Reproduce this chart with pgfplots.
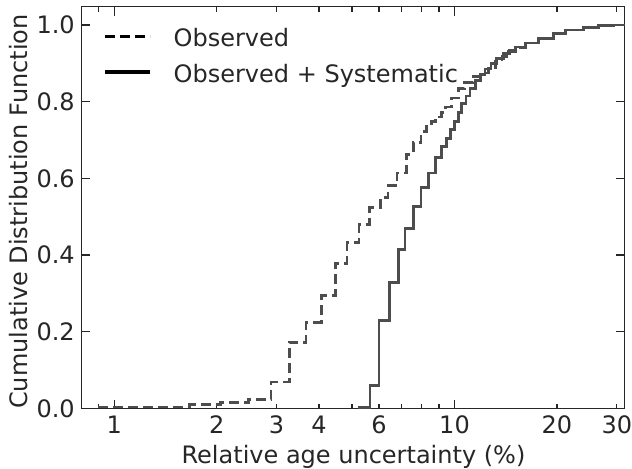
\documentclass[border=0pt]{standalone}
\usepackage{fontspec}
\setmainfont{DejaVu Sans}
\usepackage{pgfplots}
\pgfplotsset{compat=1.18}
\definecolor{txt}{HTML}{262626}
\definecolor{crv}{HTML}{4D4D4D}
\begin{document}
\fontsize{24bp}{29bp}\selectfont
\begin{tikzpicture}
\begin{axis}[
 at={(0,0)}, anchor=south west,
 scale only axis, width=543bp, height=401.8bp,
 xmode=log, xmin=0.801, xmax=31.6, ymin=0, ymax=1.0477,
 axis line style={txt, line width=1.6bp},
 tick align=inside, xtick pos=both, ytick pos=both,
 every tick/.style={txt, line width=1.3bp},
 major tick length=9bp, minor tick length=5bp,
 xtick={1,10}, xticklabels={1,10},
 minor xtick={0.9,5,7,8,9},
 extra x ticks={2,3,4,6,20,30}, extra x tick labels={2,3,4,6,20,30},
 extra x tick style={major tick length=5bp},
 ytick={0,0.2,0.4,0.6,0.8,1.0}, yticklabels={0.0,0.2,0.4,0.6,0.8,1.0},
 minor ytick={},
 xticklabel style={anchor=base, yshift=-24.8bp, text=txt, inner sep=0pt, font=\fontsize{24bp}{29bp}\selectfont},
 yticklabel style={anchor=east, inner sep=0pt, xshift=-6.6bp, text=txt, font=\fontsize{24bp}{29bp}\selectfont},
 xlabel={Relative age uncertainty (\%)},
 ylabel={Cumulative Distribution Function},
 xlabel style={at={(axis description cs:0.5009,0)}, anchor=base, yshift=-54.8bp, text=txt, inner sep=0pt, font=\fontsize{24bp}{29bp}\selectfont},
 ylabel style={at={(axis description cs:-0.1151,0.49)}, anchor=center, text=txt, inner sep=0pt, font=\fontsize{24bp}{29bp}\selectfont},
 legend style={draw=none, fill=none, at={(axis description cs:0,1)}, anchor=north west, xshift=22bp, yshift=-21.8bp, inner sep=0pt, outer sep=0pt, nodes={inner sep=0pt, text=txt}, column sep=22bp, row sep=13.5bp, font=\fontsize{24bp}{29bp}\selectfont},
 legend cell align=left,
 legend image code/.code={\draw[#1, line width=3.2bp] (0bp,2.7bp) -- (45bp,2.7bp);},
]
\addplot[crv, line width=2.7bp, dash pattern=on 10bp off 5bp, const plot, forget plot] table {
x y
0.897 0.004
1.66 0.010
2.05 0.015
2.48 0.023
2.89 0.069
3.27 0.173
3.66 0.225
4.06 0.295
4.46 0.379
4.83 0.432
5.24 0.480
5.62 0.524
6.05 0.550
6.38 0.582
6.78 0.614
7.21 0.663
7.57 0.694
7.98 0.722
8.27 0.735
8.55 0.748
8.79 0.760
9.16 0.772
9.41 0.786
9.80 0.810
10.28 0.835
10.70 0.850
11.37 0.865
11.93 0.875
12.60 0.888
13.20 0.905
13.80 0.917
14.41 0.930
15.10 0.940
16.20 0.953
17.66 0.965
19.55 0.978
21.20 0.987
23.90 0.993
26.50 0.998
29.40 1.000
31.60 1.000
};
\addplot[crv, line width=2.7bp, const plot, forget plot] table {
x y
5.20 0.003
5.65 0.060
6.00 0.230
6.43 0.328
6.84 0.415
7.16 0.470
7.57 0.527
7.98 0.576
8.39 0.614
8.78 0.655
9.14 0.684
9.49 0.704
9.71 0.728
10.00 0.748
10.25 0.772
10.50 0.795
10.80 0.815
11.10 0.835
11.50 0.855
11.90 0.870
12.30 0.885
12.80 0.900
13.30 0.912
13.90 0.925
14.50 0.935
15.10 0.943
16.20 0.953
17.66 0.965
19.55 0.978
21.20 0.987
23.90 0.993
26.50 0.998
29.40 1.000
31.60 1.000
};
\addlegendimage{black, dash pattern=on 10bp off 5bp}
\addlegendentry{Observed}
\addlegendimage{black}
\addlegendentry{Observed + Systematic}
\end{axis}
\pgfresetboundingbox
\path[use as bounding box] (-81.5bp,-60.5bp) rectangle (550.5bp,408.5bp);
\end{tikzpicture}
\end{document}
